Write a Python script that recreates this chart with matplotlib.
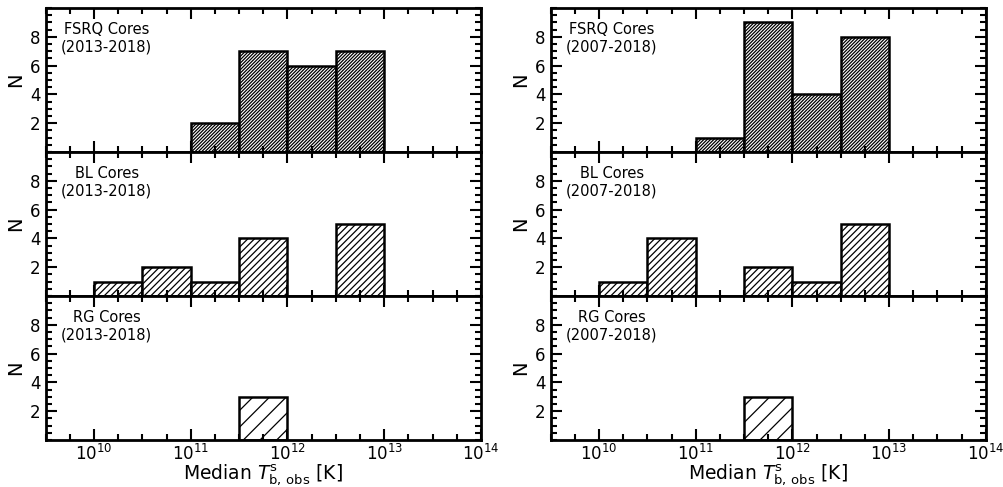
import numpy as np
import matplotlib.pyplot as plt
from matplotlib.ticker import MultipleLocator, FuncFormatter

# bin edges in log10(T_b / K)
bin_edges = [10.0, 10.5, 11.0, 11.5, 12.0, 12.5, 13.0]

# counts per bin, 2013-2018 (left column)
fsrq_2013 = [0, 0, 2, 7, 6, 7]
bl_2013 = [1, 2, 1, 4, 0, 5]
rg_2013 = [0, 0, 0, 3, 0, 0]

# counts per bin, 2007-2018 (right column)
fsrq_2007 = [0, 0, 1, 9, 4, 8]
bl_2007 = [1, 4, 0, 2, 1, 5]
rg_2007 = [0, 0, 0, 3, 0, 0]

classes = ['FSRQ Cores', 'BL Cores', 'RG Cores']
hatches = ['/' * 10, '/' * 5, '//']
periods = ['(2013-2018)', '(2007-2018)']
columns = [[fsrq_2013, bl_2013, rg_2013], [fsrq_2007, bl_2007, rg_2007]]

plt.rcParams['hatch.linewidth'] = 0.9

fig = plt.figure(figsize=(10.04, 4.87), dpi=100)
gs_left = fig.add_gridspec(3, 1, left=0.0455, right=0.479, top=0.9836, bottom=0.0965, hspace=0)
gs_right = fig.add_gridspec(3, 1, left=0.5485, right=0.9818, top=0.9836, bottom=0.0965, hspace=0)

edges = np.array(bin_edges)
widths = np.diff(edges)

for col, gs in enumerate([gs_left, gs_right]):
    for row in range(3):
        ax = fig.add_subplot(gs[row])
        counts = np.array(columns[col][row])
        keep = counts > 0
        ax.bar(edges[:-1][keep], counts[keep], width=widths[keep], align='edge',
               color='white', edgecolor='black', linewidth=1.8, hatch=hatches[row])
        ax.set_xlim(9.5, 14.0)
        ax.set_ylim(0, 10)
        ax.xaxis.set_major_locator(MultipleLocator(1))
        ax.xaxis.set_minor_locator(MultipleLocator(0.25))
        ax.yaxis.set_major_locator(MultipleLocator(2))
        ax.yaxis.set_minor_locator(MultipleLocator(0.5))
        ax.xaxis.set_major_formatter(FuncFormatter(lambda v, p: r'$10^{%d}$' % round(v)))
        ax.tick_params(which='both', direction='in', top=True, right=True, width=1.5)
        ax.tick_params(which='major', length=8, labelsize=12)
        ax.tick_params(axis='x', which='major', pad=2.5)
        ax.tick_params(which='minor', length=4)
        for s in ax.spines.values():
            s.set_linewidth(2)
        ax.set_yticks([2, 4, 6, 8])
        ax.set_ylabel('N', fontsize=14)
        ax.text(0.14, 0.79, classes[row] + '\n' + periods[col], transform=ax.transAxes,
                ha='center', va='center', multialignment='center', fontsize=10.5)
        if row < 2:
            ax.tick_params(labelbottom=False)
        else:
            ax.set_xlabel(r'Median $T^{\rm s}_{\rm b,\,obs}$ [K]', fontsize=13.5, labelpad=-1)

fig.savefig('out.png', dpi=100)
